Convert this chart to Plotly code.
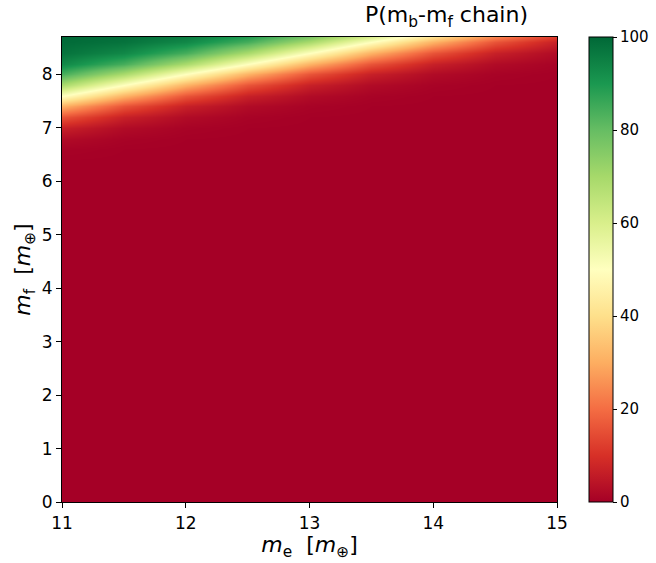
import plotly.graph_objects as go

# Grid of cell centres (m_e along x, m_f along y)
m_e = [11.0, 11.5, 12.0, 12.5, 13.0, 13.5, 14.0, 14.5, 15.0]
m_f = [0.0, 6.4, 6.6, 6.8, 7.0, 7.2, 7.4, 7.6, 7.8, 8.0, 8.2, 8.4, 8.6, 8.8]

# Probability (%) of the m_b-m_f chain (rows follow m_f)
prob = [
    [0.0, 0.0, 0.0, 0.0, 0.0, 0.0, 0.0, 0.0, 0.0],
    [0.1, 0.0, 0.0, 0.0, 0.0, 0.0, 0.0, 0.0, 0.0],
    [0.6, 0.1, 0.0, 0.0, 0.0, 0.0, 0.0, 0.0, 0.0],
    [2.3, 0.6, 0.1, 0.0, 0.0, 0.0, 0.0, 0.0, 0.0],
    [6.7, 2.3, 0.6, 0.1, 0.0, 0.0, 0.0, 0.0, 0.0],
    [15.9, 6.7, 2.3, 0.6, 0.1, 0.0, 0.0, 0.0, 0.0],
    [30.9, 15.9, 6.7, 2.3, 0.6, 0.1, 0.0, 0.0, 0.0],
    [50.0, 30.9, 15.9, 6.7, 2.3, 0.6, 0.1, 0.0, 0.0],
    [69.1, 50.0, 30.9, 15.9, 6.7, 2.3, 0.6, 0.1, 0.0],
    [84.1, 69.1, 50.0, 30.9, 15.9, 6.7, 2.3, 0.6, 0.1],
    [93.3, 84.1, 69.1, 50.0, 30.9, 15.9, 6.7, 2.3, 0.6],
    [97.7, 93.3, 84.1, 69.1, 50.0, 30.9, 15.9, 6.7, 2.3],
    [99.4, 97.7, 93.3, 84.1, 69.1, 50.0, 30.9, 15.9, 6.7],
    [99.9, 99.4, 97.7, 93.3, 84.1, 69.1, 50.0, 30.9, 15.9],
]

x_ticks = [11, 12, 13, 14, 15]
y_ticks = [0, 1, 2, 3, 4, 5, 6, 7, 8]
cb_ticks = [0, 20, 40, 60, 80, 100]

rdylgn = ["#a50026", "#d73027", "#f46d43", "#fdae61", "#fee08b", "#ffffbf",
          "#d9ef8b", "#a6d96a", "#66bd63", "#1a9850", "#006837"]
colorscale = [[i / (len(rdylgn) - 1), c] for i, c in enumerate(rdylgn)]

FONT = "DejaVu Sans"

fig = go.Figure(go.Heatmap(
    x=m_e, y=m_f, z=prob,
    zmin=0, zmax=100, zsmooth="best",
    colorscale=colorscale,
    colorbar=dict(
        thickness=24, len=1.0, lenmode="fraction",
        x=1.0646, xanchor="left", y=0.5, yanchor="middle",
        xpad=0, ypad=0,
        outlinewidth=1, outlinecolor="black",
        tickvals=cb_ticks, ticks="outside", ticklen=4, tickcolor="black",
        tickfont=dict(family=FONT, size=15, color="black"),
    ),
))

fig.update_layout(
    width=656, height=563,
    margin=dict(l=62, r=99, t=37, b=61, autoexpand=False),
    paper_bgcolor="white", plot_bgcolor="white",
    font=dict(family=FONT, color="black"),
    annotations=[dict(
        text="P(m<sub>b</sub>-m<sub>f</sub> chain)",
        xref="paper", yref="paper", x=0.776, y=1.0, yshift=4,
        xanchor="center", yanchor="bottom", showarrow=False,
        font=dict(family=FONT, size=22, color="black"),
    )],
)

fig.update_xaxes(
    range=[11, 15], tickvals=x_ticks, ticks="outside", ticklen=5,
    tickcolor="black", showline=True, linecolor="black", linewidth=1.2,
    mirror=True, showgrid=False, zeroline=False, automargin=False,
    tickfont=dict(family=FONT, size=17, color="black"),
    title=dict(text="<i>m</i><sub>e</sub>  [<i>m</i><sub>⊕</sub>]",
               font=dict(family=FONT, size=22, color="black"), standoff=4),
)
fig.update_yaxes(
    range=[0, 8.7], tickvals=y_ticks, ticks="outside", ticklen=5,
    tickcolor="black", showline=True, linecolor="black", linewidth=1.2,
    mirror=True, showgrid=False, zeroline=False, automargin=False,
    tickfont=dict(family=FONT, size=17, color="black"),
    title=dict(text="<i>m</i><sub>f</sub>  [<i>m</i><sub>⊕</sub>]",
               font=dict(family=FONT, size=22, color="black"), standoff=4),
)

fig.write_html(
    "out.html",
    config={"displayModeBar": False},
    post_script="document.body.style.margin='0';document.body.style.padding='0';",
)
